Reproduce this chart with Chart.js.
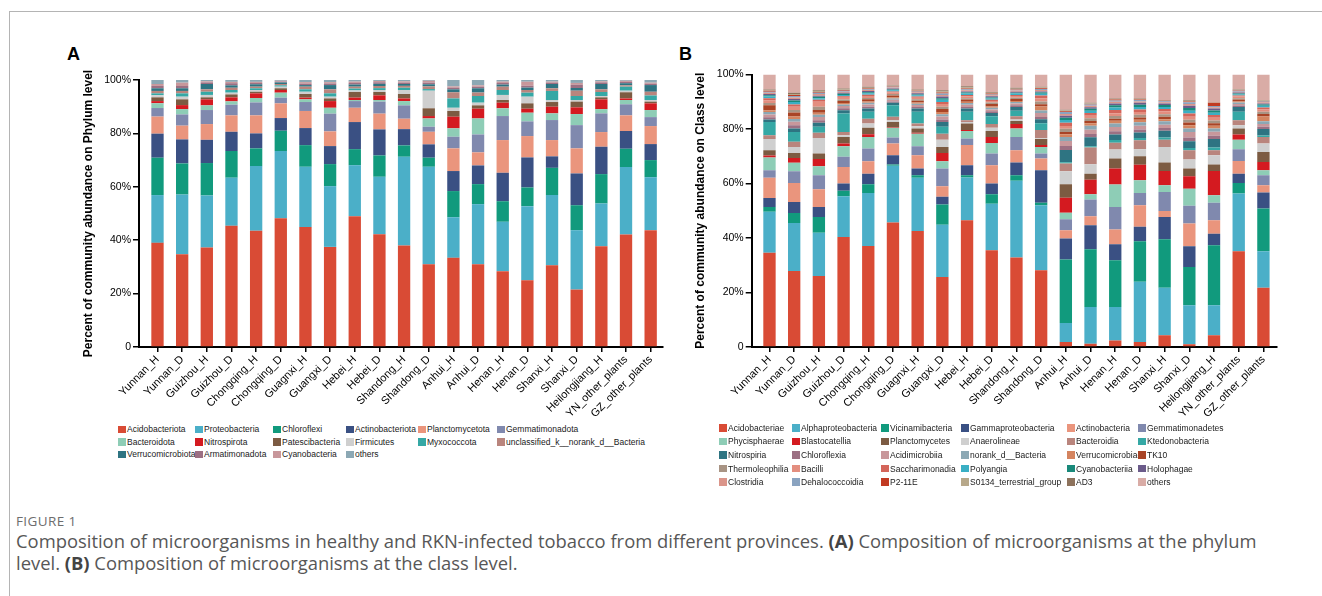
<!DOCTYPE html>
<html>
<head>
<meta charset="utf-8">
<script src="https://cdn.jsdelivr.net/npm/chart.js@4.4.0/dist/chart.umd.min.js"></script>
<style>
  html, body { margin: 0; padding: 0; background: #fff; }
  body { width: 1322px; height: 596px; position: relative; overflow: hidden;
         font-family: "Liberation Sans", Arial, sans-serif; }
  .frame { position: absolute; left: 9px; top: 11px; width: 1330px; height: 600px;
           border-left: 1.5px solid #b4b4b4; border-top: 1.5px solid #b4b4b4; }
  .tag { position: absolute; font: bold 18px "Liberation Sans", Arial, sans-serif; color: #000; line-height: 18px; }
  .plot { position: absolute; top: 40px; width: 640px; height: 380px; }
  .legend { position: absolute; display: grid; font-size: 8.5px; color: #1a1a1a; }
  .legend .item { display: flex; align-items: center; white-space: nowrap; }
  .legend .sw { width: 7.5px; height: 7.5px; margin-right: 1.5px; flex: none; }
  .fig-no { position: absolute; left: 16px; top: 512px; font: 13.5px "Open Sans", sans-serif;
            color: #6d6d6d; letter-spacing: 0.4px; }
  .caption { position: absolute; left: 16px; top: 530px; font: 18.4px/22px "Open Sans", sans-serif;
             color: #575757; white-space: nowrap; }
  .caption b { color: #444; }
</style>
</head>
<body>
<div class="frame"></div>
<div class="tag" style="left:67px; top:45px;">A</div>
<div class="tag" style="left:679px; top:45px;">B</div>
<div class="plot" style="left:40px;"><canvas id="phylumChart" width="640" height="380"></canvas></div>
<div class="plot" style="left:660px;"><canvas id="classChart" width="640" height="380"></canvas></div>
<div class="legend" id="phylumLegend" style="left:118px; top:423px; grid-template-columns: 77px 78px 73px 72px 79px auto; grid-auto-rows: 12.5px;"></div>
<div class="legend" id="classLegend" style="left:719px; top:421px; grid-template-columns: 73px 89px 80px 106px 71px auto; grid-auto-rows: 13.6px;"></div>
<div class="fig-no">FIGURE 1</div>
<div class="caption">Composition of microorganisms in healthy and RKN-infected tobacco from different provinces. <b>(A)</b> Composition of microorganisms at the phylum<br>level. <b>(B)</b> Composition of microorganisms at the class level.</div>

<script>
// Sample groups along the x axis (shared by both panels)
const samples = ["Yunnan_H", "Yunnan_D", "Guizhou_H", "Guizhou_D", "Chongqing_H", "Chongqing_D",
  "Guagnxi_H", "Guangxi_D", "Hebei_H", "Hebei_D", "Shandong_H", "Shandong_D", "Anhui_H", "Anhui_D",
  "Henan_H", "Henan_D", "Shanxi_H", "Shanxi_D", "Heilongjiang_H", "YN_other_plants", "GZ_other_plants"];

const yTicks = [0, 20, 40, 60, 80, 100];

// ---------- Panel A: phylum level ----------
const phylumTaxa = ["Acidobacteriota", "Proteobacteria", "Chloroflexi", "Actinobacteriota", "Planctomycetota",
  "Gemmatimonadota", "Bacteroidota", "Nitrospirota", "Patescibacteria", "Firmicutes", "Myxococcota",
  "unclassified_k__norank_d__Bacteria", "Verrucomicrobiota", "Armatimonadota", "Cyanobacteria", "others"];
const phylumColors = ["#d94b35", "#4bafc8", "#119a7d", "#3a5083", "#ea957d", "#8089ae", "#8ecdb6", "#d41a20",
  "#7c5b42", "#cfcfcf", "#35a8a5", "#b9857d", "#2e7482", "#9c7083", "#c8979b", "#8ca8b4"];

// Relative abundance (%) per sample, in the taxon order above
const phylumYunnanH      = [39.0, 17.9, 14.0, 9.0, 6.4, 3.2, 1.8, 0.8, 1.4, 0.8, 0.7, 0.9, 1.0, 0.9, 0.7, 1.5];
const phylumYunnanD      = [34.75, 22.35, 11.65, 9.0, 5.15, 4.2, 2.0, 1.5, 2.15, 1.0, 1.25, 0.9, 1.0, 0.85, 1.25, 1.0];
const phylumGuizhouH     = [37.25, 19.5, 12.15, 8.7, 5.9, 5.25, 1.75, 2.25, 0.75, 0.9, 1.2, 0.9, 2.0, 0.6, 0.4, 0.5];
const phylumGuizhouD     = [45.4, 18.0, 10.0, 7.2, 6.15, 4.0, 1.25, 1.5, 1.1, 0.65, 1.0, 0.85, 0.9, 0.8, 0.5, 0.7];
const phylumChongqingH   = [43.5, 24.25, 6.65, 5.6, 6.75, 4.85, 1.65, 1.75, 0.6, 0.65, 0.65, 0.6, 0.9, 0.5, 0.4, 0.7];
const phylumChongqingD   = [48.25, 25.15, 7.6, 4.75, 5.5, 2.15, 1.85, 1.0, 0.65, 0.6, 0.5, 0.5, 0.6, 0.3, 0.3, 0.3];
const phylumGuangxiH     = [44.9, 22.6, 8.1, 6.4, 6.4, 3.35, 1.0, 0.65, 1.35, 0.85, 0.9, 1.0, 0.6, 0.5, 0.6, 0.8];
const phylumGuangxiD     = [37.5, 22.75, 8.25, 6.75, 5.5, 6.65, 2.2, 2.5, 1.0, 0.65, 1.25, 1.5, 1.6, 0.6, 0.5, 0.8];
const phylumHebeiH       = [49.0, 19.1, 6.0, 10.15, 5.35, 2.5, 0.4, 0.9, 2.1, 0.6, 0.7, 0.7, 0.8, 0.6, 0.5, 0.6];
const phylumHebeiD       = [42.25, 21.5, 8.0, 9.75, 5.9, 4.5, 0.6, 1.75, 1.25, 0.75, 0.7, 0.8, 0.8, 0.6, 0.5, 0.35];
const phylumShandongH    = [38.0, 33.25, 4.25, 6.1, 3.9, 5.0, 1.6, 1.0, 1.65, 1.5, 0.85, 0.7, 0.7, 0.5, 0.5, 0.5];
const phylumShandongD    = [31.0, 36.5, 3.4, 5.0, 4.7, 1.9, 3.1, 0.9, 2.9, 6.6, 0.6, 1.0, 0.8, 0.6, 0.7, 0.3];
const phylumAnhuiH       = [33.4, 15.2, 9.8, 7.5, 8.5, 4.35, 3.15, 4.35, 2.15, 1.2, 3.5, 2.3, 1.1, 0.6, 0.5, 2.4];
const phylumAnhuiD       = [31.0, 22.5, 7.5, 7.0, 4.9, 6.7, 6.0, 3.65, 1.25, 1.0, 2.5, 1.3, 1.6, 0.6, 0.5, 2.0];
const phylumHenanH       = [28.4, 18.5, 7.7, 10.65, 12.25, 9.0, 2.9, 2.1, 1.0, 1.9, 1.85, 1.25, 0.8, 0.6, 0.5, 0.6];
const phylumHenanD       = [25.0, 27.75, 7.0, 11.25, 8.0, 5.5, 3.25, 1.5, 2.0, 2.5, 1.5, 1.0, 0.9, 0.7, 1.5, 0.65];
const phylumShanxiH      = [30.6, 26.3, 10.2, 4.3, 6.1, 7.5, 2.5, 2.5, 1.75, 0.75, 3.4, 1.0, 1.6, 0.5, 0.4, 0.6];
const phylumShanxiD      = [21.5, 22.25, 9.35, 11.9, 9.4, 8.7, 4.15, 2.5, 2.15, 0.6, 1.5, 2.0, 1.0, 1.2, 0.7, 1.1];
const phylumHeilongjiangH= [37.75, 16.0, 11.0, 10.25, 5.5, 7.0, 1.6, 3.65, 0.75, 0.5, 1.5, 1.0, 2.0, 0.6, 0.4, 0.5];
const phylumYNOther      = [42.1, 25.3, 6.85, 6.65, 5.85, 4.15, 1.6, 0.6, 2.3, 0.6, 1.5, 0.5, 0.8, 0.5, 0.4, 0.3];
const phylumGZOther      = [43.75, 19.85, 6.4, 6.0, 6.75, 3.35, 2.65, 2.5, 0.65, 0.6, 1.7, 1.4, 2.5, 0.5, 0.4, 1.0];

const phylumRows = [phylumYunnanH, phylumYunnanD, phylumGuizhouH, phylumGuizhouD, phylumChongqingH,
  phylumChongqingD, phylumGuangxiH, phylumGuangxiD, phylumHebeiH, phylumHebeiD, phylumShandongH,
  phylumShandongD, phylumAnhuiH, phylumAnhuiD, phylumHenanH, phylumHenanD, phylumShanxiH, phylumShanxiD,
  phylumHeilongjiangH, phylumYNOther, phylumGZOther];

// ---------- Panel B: class level ----------
const classTaxa = ["Acidobacteriae", "Alphaproteobacteria", "Vicinamibacteria", "Gammaproteobacteria",
  "Actinobacteria", "Gemmatimonadetes", "Phycisphaerae", "Blastocatellia", "Planctomycetes", "Anaerolineae",
  "Bacteroidia", "Ktedonobacteria", "Nitrospiria", "Chloroflexia", "Acidimicrobiia", "norank_d__Bacteria",
  "Verrucomicrobiae", "TK10", "Thermoleophilia", "Bacilli", "Saccharimonadia", "Polyangia", "Cyanobacteriia",
  "Holophagae", "Clostridia", "Dehalococcoidia", "P2-11E", "S0134_terrestrial_group", "AD3", "others"];
const classColors = ["#d94b35", "#4bafc8", "#119a7d", "#3a5083", "#ea957d", "#8089ae", "#8ecdb6", "#d41a20",
  "#7c5b42", "#cfcfcf", "#b9857d", "#35a8a5", "#2e7482", "#9c7083", "#c8979b", "#8ca8b4", "#d4845f", "#a94426",
  "#a89484", "#e38e7f", "#d4655a", "#3aafc4", "#19897a", "#6b5b8a", "#db958a", "#8aa3c0", "#c13a22", "#b7a88a",
  "#8d725c", "#d9aca6"];

const classYunnanH       = [34.6, 15.0, 1.8, 3.3, 7.4, 2.8, 4.6, 0.8, 1.9, 4.1, 1.4, 4.9, 0.9, 0.8, 1.0, 0.9, 0.7, 1.8, 0.8, 1.0, 0.8, 0.6, 0.5, 0.4, 0.5, 0.4, 0.3, 0.2, 0.3, 5.5];
const classYunnanD       = [27.9, 17.6, 3.7, 4.0, 7.0, 4.3, 3.1, 1.8, 1.8, 2.2, 1.9, 3.6, 1.3, 1.2, 1.3, 1.0, 0.9, 1.5, 0.9, 1.2, 0.8, 0.9, 0.6, 0.5, 0.6, 0.5, 0.4, 0.3, 0.5, 6.7];
const classGuizhouH      = [26.1, 15.8, 5.8, 3.7, 6.5, 5.1, 3.3, 2.7, 2.0, 5.7, 1.9, 2.2, 1.5, 0.9, 1.2, 0.8, 0.8, 1.0, 1.2, 1.8, 0.7, 0.6, 0.5, 0.4, 0.6, 0.5, 0.3, 0.3, 0.3, 5.8];
const classGuizhouD      = [40.4, 14.9, 2.0, 2.7, 6.1, 3.7, 3.9, 1.0, 2.4, 0.6, 1.2, 6.8, 1.2, 0.7, 0.8, 0.6, 0.5, 0.8, 0.5, 0.7, 0.5, 0.5, 0.4, 0.4, 0.4, 0.3, 0.3, 0.2, 0.4, 5.1];
const classChongqingH    = [37.1, 19.4, 3.2, 3.9, 4.6, 4.6, 4.3, 1.0, 2.4, 1.5, 1.8, 2.5, 1.2, 0.7, 0.8, 0.6, 0.5, 0.8, 0.5, 0.7, 0.5, 0.5, 0.4, 0.4, 0.4, 0.3, 0.3, 0.2, 0.4, 4.5];
const classChongqingD    = [45.7, 20.8, 0.5, 3.4, 4.3, 2.2, 3.6, 0.2, 1.9, 0.6, 1.3, 4.2, 0.9, 0.5, 0.6, 0.5, 0.4, 0.7, 0.5, 0.6, 0.4, 0.4, 0.3, 0.4, 0.3, 0.3, 0.2, 0.2, 0.2, 3.9];
const classGuangxiH      = [42.6, 19.5, 0.9, 2.5, 4.9, 3.3, 4.6, 0.3, 1.6, 0.8, 1.0, 4.3, 1.2, 0.6, 0.7, 0.5, 0.4, 0.7, 0.5, 0.6, 0.4, 0.5, 0.3, 0.4, 0.4, 0.3, 0.2, 0.2, 0.3, 5.5];
const classGuangxiD      = [25.7, 19.2, 7.4, 2.8, 3.9, 6.5, 2.7, 3.0, 2.2, 2.7, 2.2, 2.5, 1.8, 0.9, 1.1, 0.8, 0.8, 1.1, 0.9, 1.0, 0.7, 0.8, 0.6, 0.6, 0.6, 0.5, 0.4, 0.4, 0.4, 5.8];
const classHebeiH        = [46.5, 15.7, 0.8, 3.7, 7.4, 2.4, 2.8, 0.3, 2.4, 0.6, 0.6, 3.1, 1.2, 0.6, 0.8, 0.6, 0.5, 0.8, 0.5, 0.7, 0.5, 0.5, 0.4, 0.4, 0.4, 0.4, 0.3, 0.3, 0.5, 4.3];
const classHebeiD        = [35.5, 17.1, 3.5, 3.9, 6.7, 4.3, 3.9, 2.2, 2.2, 1.2, 1.3, 2.9, 1.2, 0.6, 0.7, 0.6, 0.5, 0.9, 0.5, 0.6, 0.4, 0.5, 0.4, 0.4, 0.4, 0.3, 0.3, 0.3, 0.3, 6.4];
const classShandongH     = [32.8, 28.2, 2.0, 4.7, 4.5, 4.9, 3.1, 1.6, 1.1, 0.6, 1.2, 2.0, 1.4, 0.6, 0.7, 0.5, 0.4, 0.7, 0.5, 0.6, 0.4, 0.5, 0.3, 0.4, 0.4, 0.3, 0.2, 0.2, 0.3, 4.9];
const classShandongD     = [28.2, 23.8, 0.9, 12.0, 4.3, 1.8, 2.4, 0.7, 2.2, 0.3, 3.0, 2.5, 1.5, 0.8, 1.5, 0.9, 1.5, 0.8, 1.0, 1.2, 1.0, 0.6, 0.5, 0.4, 0.5, 0.4, 0.3, 0.2, 0.3, 4.5];
const classAnhuiH        = [1.8, 7.0, 23.3, 7.7, 3.0, 4.1, 2.4, 5.5, 4.9, 4.8, 2.8, 0.5, 4.5, 1.5, 1.8, 1.5, 1.0, 0.8, 1.2, 1.0, 1.2, 1.0, 0.8, 0.8, 0.6, 0.7, 0.3, 0.3, 0.3, 12.9];
const classAnhuiD        = [1.2, 13.5, 21.2, 8.8, 3.3, 6.1, 2.0, 5.3, 2.2, 3.5, 6.1, 0.5, 3.3, 1.2, 1.5, 1.5, 0.9, 0.8, 1.0, 1.0, 1.0, 0.8, 0.7, 0.6, 0.5, 0.5, 0.2, 0.2, 0.2, 10.4];
const classHenanH        = [2.4, 12.3, 17.1, 5.9, 5.4, 8.3, 8.2, 5.9, 3.7, 3.3, 2.5, 1.0, 2.0, 1.2, 1.5, 1.3, 1.0, 0.8, 1.0, 1.0, 1.2, 0.9, 0.8, 0.7, 0.6, 0.5, 0.3, 0.2, 0.2, 8.8];
const classHenanD        = [1.8, 22.1, 14.9, 5.3, 7.9, 4.5, 4.7, 5.7, 3.1, 2.6, 3.3, 0.8, 2.0, 1.1, 1.4, 1.3, 0.9, 0.8, 1.0, 1.0, 1.0, 0.9, 0.8, 0.7, 0.5, 0.5, 0.2, 0.2, 0.2, 8.8];
const classShanxiH       = [4.3, 17.4, 17.8, 8.2, 2.2, 7.0, 2.5, 5.2, 3.1, 5.7, 2.7, 0.8, 2.5, 1.0, 1.2, 1.2, 0.8, 0.9, 0.9, 1.0, 0.9, 0.8, 0.7, 0.6, 0.4, 0.4, 0.2, 0.1, 0.1, 9.4];
const classShanxiD       = [1.0, 14.3, 14.1, 7.6, 8.3, 6.5, 6.3, 4.6, 2.8, 3.3, 3.4, 0.8, 2.5, 1.4, 2.0, 1.3, 1.2, 1.0, 1.0, 1.1, 1.2, 1.0, 1.0, 0.8, 0.7, 0.6, 0.3, 0.3, 0.2, 9.4];
const classHeilongjiangH = [4.3, 11.0, 22.0, 4.3, 4.9, 6.4, 2.8, 8.9, 2.4, 3.4, 1.8, 1.0, 3.1, 1.2, 1.5, 1.2, 1.0, 0.9, 1.0, 1.0, 1.0, 0.9, 0.8, 0.7, 0.5, 0.4, 1.2, 0.1, 0.1, 10.2];
const classYNOther       = [35.1, 21.2, 3.9, 3.4, 4.7, 4.3, 3.5, 1.9, 2.2, 1.2, 1.8, 3.1, 1.8, 0.5, 0.6, 0.5, 0.4, 0.7, 0.5, 0.6, 0.4, 0.4, 0.3, 0.4, 0.3, 0.3, 0.2, 0.2, 0.2, 5.4];
const classGZOther       = [21.7, 13.4, 15.7, 5.9, 2.7, 3.6, 1.9, 3.0, 3.7, 3.1, 2.4, 0.5, 2.4, 0.8, 1.0, 1.0, 1.8, 0.9, 0.8, 0.9, 0.7, 0.6, 0.5, 0.4, 0.4, 0.3, 0.2, 0.2, 0.1, 9.4];

const classRows = [classYunnanH, classYunnanD, classGuizhouH, classGuizhouD, classChongqingH,
  classChongqingD, classGuangxiH, classGuangxiD, classHebeiH, classHebeiD, classShandongH,
  classShandongD, classAnhuiH, classAnhuiD, classHenanH, classHenanD, classShanxiH, classShanxiD,
  classHeilongjiangH, classYNOther, classGZOther];

Chart.defaults.font.family = '"Liberation Sans", Arial, sans-serif';
Chart.defaults.color = '#000';

function stackedChart(canvasId, taxa, colors, rows, yTitle, frame) {
  const datasets = taxa.map((name, k) => ({
    label: name,
    data: rows.map((row, i) => ({ x: i, y: row[k] })),
    backgroundColor: colors[k],
    borderWidth: 0,
    categoryPercentage: 1,
    barPercentage: 0.5
  }));
  return new Chart(document.getElementById(canvasId), {
    type: 'bar',
    data: { datasets },
    options: {
      responsive: false,
      animation: false,
      layout: { padding: frame.padding },
      plugins: { legend: { display: false }, tooltip: { enabled: false } },
      scales: {
        x: {
          type: 'linear',
          stacked: true,
          offset: false,
          min: frame.xMin,
          max: frame.xMax,
          afterBuildTicks: s => { s.ticks = samples.map((_, i) => ({ value: i })); },
          afterFit: s => { s.height = frame.xHeight; },
          ticks: {
            autoSkip: false, minRotation: 45, maxRotation: 45, padding: 1,
            font: { size: 11 }, color: '#000',
            callback: v => samples[v]
          },
          grid: { offset: false, drawOnChartArea: false, drawTicks: true, tickLength: 5, color: '#000', lineWidth: 1.5 },
          border: { display: true, color: '#000', width: 2 }
        },
        y: {
          stacked: true,
          min: 0,
          max: 100,
          afterBuildTicks: s => { s.ticks = yTicks.map(v => ({ value: v })); },
          afterFit: s => { s.width = frame.yWidth; },
          ticks: {
            padding: 2, font: { size: 10.5 }, color: '#000',
            callback: v => (v === 0 ? '0' : v + '%')
          },
          grid: { drawOnChartArea: false, drawTicks: true, tickLength: 6, color: '#000', lineWidth: 1.5 },
          border: { display: true, color: '#000', width: 2 },
          title: { display: true, text: yTitle, font: { size: 12, weight: 'bold' }, color: '#000', padding: 0 }
        }
      }
    }
  });
}

stackedChart('phylumChart', phylumTaxa, phylumColors, phylumRows,
  'Percent of community abundance on Phylum level',
  { padding: { left: 41, top: 40, right: 17, bottom: 0 }, yWidth: 58, xHeight: 73, xMin: -0.75, xMax: 20.5 });

stackedChart('classChart', classTaxa, classColors, classRows,
  'Percent of community abundance on Class level',
  { padding: { left: 33, top: 34.5, right: 23, bottom: 0 }, yWidth: 58.7, xHeight: 73, xMin: -0.72, xMax: 20.55 });

// Colour keys under each panel
function fillLegend(id, taxa, colors) {
  const box = document.getElementById(id);
  taxa.forEach((name, k) => {
    const item = document.createElement('div');
    item.className = 'item';
    const sw = document.createElement('span');
    sw.className = 'sw';
    sw.style.background = colors[k];
    const txt = document.createElement('span');
    txt.textContent = name;
    item.appendChild(sw);
    item.appendChild(txt);
    box.appendChild(item);
  });
}
fillLegend('phylumLegend', phylumTaxa, phylumColors);
fillLegend('classLegend', classTaxa, classColors);
</script>
</body>
</html>
